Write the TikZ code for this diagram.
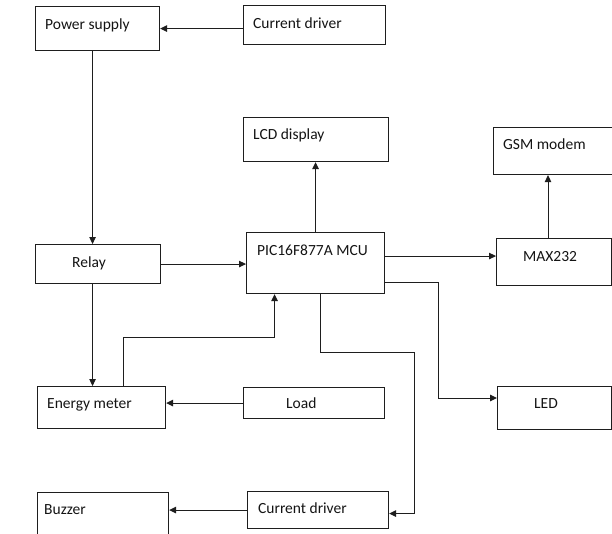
\documentclass[tikz,border=0pt]{standalone}
\usepackage{fontspec}
\setmainfont{Carlito}
\usetikzlibrary{arrows.meta}
\definecolor{lineC}{RGB}{30,30,30}
\definecolor{txtC}{RGB}{20,20,20}
\begin{document}
\begin{tikzpicture}[x=1pt,y=-1pt,
  box/.style={draw=lineC, line width=1.1pt, rectangle, inner sep=0pt, anchor=north west},
  lbl/.style={anchor=base west, inner sep=0pt, text=txtC, font=\fontsize{15.5}{18}\selectfont},
  arr/.style={draw=lineC, line width=1pt, -{Triangle[length=7pt,width=6.5pt]}}]
\clip (0,0) rectangle (612,533);
\fill[white] (0,0) rectangle (612,533);
% boxes
\node[box, minimum width=124pt, minimum height=44pt] (ps) at (35,6) {};
\node[box, minimum width=142pt, minimum height=39pt] (cd1) at (243,5) {};
\node[box, minimum width=145pt, minimum height=44pt] (lcd) at (243,117) {};
\node[box, minimum width=132pt, minimum height=47pt] (gsm) at (493,127) {};
\node[box, minimum width=125pt, minimum height=39pt] (relay) at (35,244) {};
\node[box, minimum width=138pt, minimum height=61pt] (mcu) at (246,232) {};
\node[box, minimum width=115pt, minimum height=47pt] (max) at (496,238) {};
\node[box, minimum width=128pt, minimum height=42pt] (em) at (37,386) {};
\node[box, minimum width=141pt, minimum height=31pt] (load) at (243,387) {};
\node[box, minimum width=114pt, minimum height=43pt] (led) at (497,386) {};
\node[box, minimum width=131pt, minimum height=53pt] (buz) at (37,492) {};
\node[box, minimum width=141pt, minimum height=37pt] (cd2) at (247,491) {};
% texts
\node[lbl] (psT) at (45,29) {Power supply};
\node[lbl] (cd1T) at (253,28) {Current driver};
\node[lbl] (lcdT) at (253,139) {LCD display};
\node[lbl] (gsmT) at (503,149) {GSM modem};
\node[lbl] (relayT) at (72,267) {Relay};
\node[lbl] (mcuT) at (257,255) {PIC16F877A MCU};
\node[lbl] (maxT) at (523,261) {MAX232};
\node[lbl] (emT) at (47,408) {Energy meter};
\node[lbl] (loadT) at (286,408) {Load};
\node[lbl] (ledT) at (534,408) {LED};
\node[lbl] (buzT) at (44,514) {Buzzer};
\node[lbl] (cd2T) at (258,513) {Current driver};
% junction coordinates
\coordinate (j1) at (438,398);
\coordinate (j2) at (414,352);
\coordinate (j3) at (123,337);
% connectors
\draw[arr] (cd1.west |- ps.east) -- (ps.east);
\draw[arr] ([xshift=-5pt]ps.south) -- ([xshift=-5pt]ps.south |- relay.north);
\draw[arr] (relay.east) -- (relay.east -| mcu.west);
\draw[arr] (mcu.north) -- (mcu.north |- lcd.south);
\draw[arr] ([yshift=7pt]mcu.east) -- ([yshift=7pt]mcu.east -| max.west);
\draw[arr] (max.north -| 548,0) -- (gsm.south -| 548,0);
\draw[arr] ([yshift=-19.5pt]mcu.east) -| (j1) -- (j1 -| led.west);
\draw[arr] ([xshift=5pt]mcu.south) |- (j2) |- ([yshift=-3.5pt]cd2.east);
\draw[arr] ([xshift=-5.5pt]relay.south) -- ([xshift=-5.5pt]relay.south |- em.north);
\draw[arr] (em.north -| j3) -- (j3) -| ([xshift=-41pt]mcu.south);
\draw[arr] (load.west) -- (load.west -| em.east);
\draw[arr] (cd2.west) -- (cd2.west -| buz.east);
\end{tikzpicture}
\end{document}
